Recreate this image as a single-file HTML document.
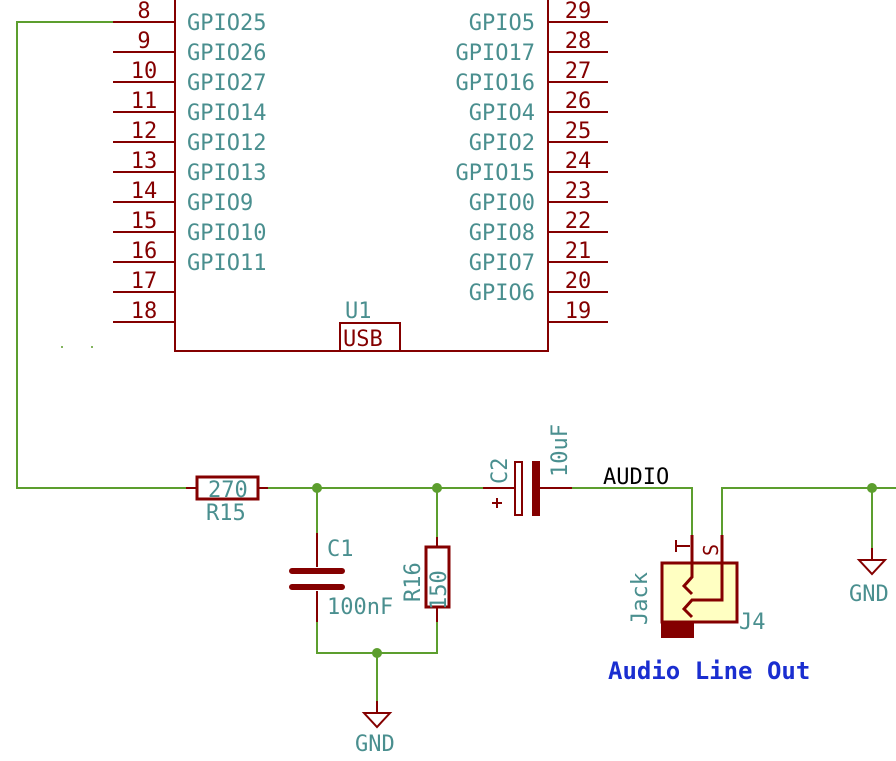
<!DOCTYPE html>
<html><head><meta charset="utf-8"><style>
html,body{margin:0;padding:0;background:#fff;width:896px;height:761px;overflow:hidden}
text{font-family:"DejaVu Sans Mono","Liberation Mono",monospace;fill:#4a8f8f;font-size:22px}
.n{fill:#840000}
</style></head><body>
<svg width="896" height="761" viewBox="0 0 896 761" xmlns="http://www.w3.org/2000/svg">
<g stroke="#840000" stroke-width="2" fill="none">
<path d="M175 0V351H548V0"/>
<rect x="340" y="323" width="60" height="28"/>
<path d="M113 22H175M113 52H175M113 82H175M113 112H175M113 142H175M113 172H175M113 202H175M113 232H175M113 262H175M113 292H175M113 322H175"/>
<path d="M548 22H608M548 52H608M548 82H608M548 112H608M548 142H608M548 172H608M548 202H608M548 232H608M548 262H608M548 292H608M548 322H608"/>
</g>
<g class="n" text-anchor="middle">
<text x="144" y="18" class="n">8</text><text x="144" y="48" class="n">9</text><text x="144" y="78" class="n">10</text><text x="144" y="108" class="n">11</text><text x="144" y="138" class="n">12</text><text x="144" y="168" class="n">13</text><text x="144" y="198" class="n">14</text><text x="144" y="228" class="n">15</text><text x="144" y="258" class="n">16</text><text x="144" y="288" class="n">17</text><text x="144" y="318" class="n">18</text>
<text x="578" y="18" class="n">29</text><text x="578" y="48" class="n">28</text><text x="578" y="78" class="n">27</text><text x="578" y="108" class="n">26</text><text x="578" y="138" class="n">25</text><text x="578" y="168" class="n">24</text><text x="578" y="198" class="n">23</text><text x="578" y="228" class="n">22</text><text x="578" y="258" class="n">21</text><text x="578" y="288" class="n">20</text><text x="578" y="318" class="n">19</text>
</g>
<g>
<text x="187" y="30">GPIO25</text><text x="187" y="60">GPIO26</text><text x="187" y="90">GPIO27</text><text x="187" y="120">GPIO14</text><text x="187" y="150">GPIO12</text><text x="187" y="180">GPIO13</text><text x="187" y="210">GPIO9</text><text x="187" y="240">GPIO10</text><text x="187" y="270">GPIO11</text>
</g>
<g text-anchor="end">
<text x="535" y="30">GPIO5</text><text x="535" y="60">GPIO17</text><text x="535" y="90">GPIO16</text><text x="535" y="120">GPIO4</text><text x="535" y="150">GPIO2</text><text x="535" y="180">GPIO15</text><text x="535" y="210">GPIO0</text><text x="535" y="240">GPIO8</text><text x="535" y="270">GPIO7</text><text x="535" y="300">GPIO6</text>
</g>
<text x="345" y="318">U1</text>
<text x="343" y="346" class="n">USB</text>
<g stroke="#5c9e2e" stroke-width="2" fill="none">
<path d="M113 22H17V488H196M258 488H500M540 488H692V540M722 540V488H896M872 488V560M317 488V533M317 622V653H437V608M437 547V488M377 653V713"/>
</g>
<g fill="#5c9e2e"><circle cx="317" cy="488" r="5"/><circle cx="437" cy="488" r="5"/><circle cx="377" cy="653" r="5"/><circle cx="872" cy="488" r="5"/>
<circle cx="62" cy="347" r="1"/><circle cx="92" cy="347" r="1"/></g>
<g stroke="#840000" stroke-width="2" fill="none">
<rect x="197" y="477" width="61" height="22" stroke-width="3"/>
<path d="M186 488H197M258 488H268"/>
<path d="M317 533V567M317 591V622" />
<path d="M292 571H342M292 587H342" stroke-width="6" stroke-linecap="round"/>
<rect x="426" y="547" width="23" height="60" stroke-width="3"/>
<path d="M437 537V547M437 608V622"/>
<rect x="515" y="462" width="7" height="53"/>
<path d="M483 488H515M540 488H572M492 503H502M497 498V508"/>
<path d="M377 701V713M364 713H390L377 727Z"/>
<path d="M872 548V560M859 560H885L872 574Z"/>
<rect x="662" y="563" width="75" height="59" fill="#ffffc2" stroke-width="3"/>
<rect x="662" y="622" width="31" height="15" fill="#840000"/>
<path d="M692 535V577L684 586L692 594M722 535V600H692L684 609L692 617" stroke-width="3"/>
<path d="M676 540V552M676 546H690" />
</g>
<rect x="532" y="461" width="8" height="55" fill="#840000"/>
<text x="208" y="497">270</text>
<text x="206" y="520">R15</text>
<text x="327" y="556">C1</text>
<text x="327" y="614">100nF</text>
<text transform="translate(420,602) rotate(-90)">R16</text>
<text transform="translate(446,610) rotate(-90)">150</text>
<text transform="translate(507,484) rotate(-90)">C2</text>
<text transform="translate(567,477) rotate(-90)">10uF</text>
<text x="603" y="484" style="fill:#000">AUDIO</text>
<text transform="translate(718,556) rotate(-90)" class="n" style="font-size:20px">S</text>
<text transform="translate(647,625) rotate(-90)">Jack</text>
<text x="739" y="629">J4</text>
<text x="355" y="751">GND</text>
<text x="849" y="601">GND</text>
<text x="608" y="679" style="fill:#1a2ed0;font-weight:bold;font-size:24px">Audio Line Out</text>
</svg>
</body></html>
